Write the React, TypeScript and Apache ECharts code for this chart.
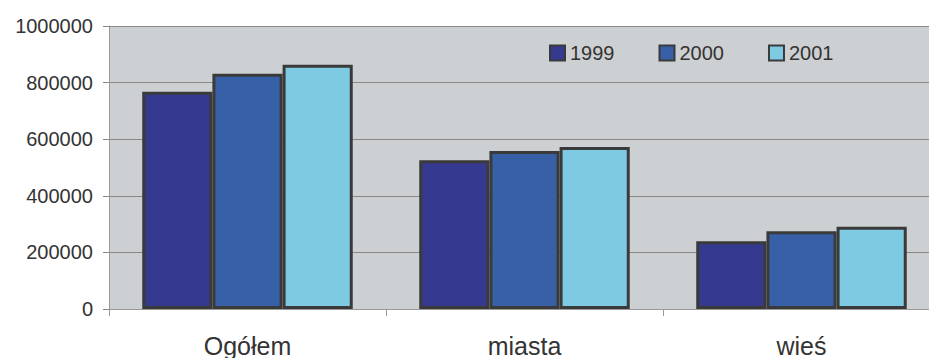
import React, { useEffect, useRef } from "react";
import * as echarts from "echarts";

const categories = ["Ogółem", "miasta", "wieś"];
const years = ["1999", "2000", "2001"];
const values1999 = [768000, 526000, 239000];
const values2000 = [831000, 558000, 275000];
const values2001 = [863000, 572000, 291000];
const colors = ["#363990", "#3760A6", "#7FCAE3"];

export default function App() {
  const ref = useRef<HTMLDivElement>(null);
  useEffect(() => {
    if (!ref.current) return;
    const chart = echarts.init(ref.current, null, { renderer: "svg" });
    const font = "'Liberation Sans', Arial, sans-serif";
    const seriesData = [values1999, values2000, values2001];
    chart.setOption({
      animation: false,
      backgroundColor: "#ffffff",
      textStyle: { fontFamily: font },
      grid: {
        left: 109,
        right: 0,
        top: 26,
        bottom: 47,
        show: true,
        backgroundColor: "#CDD0D2",
        borderWidth: 0,
      },
      legend: {
        data: years,
        left: 549,
        top: 43,
        padding: 0,
        itemWidth: 15,
        itemHeight: 15,
        itemGap: 44,
        icon: "rect",
        textStyle: { fontSize: 20, color: "#333", fontFamily: font },
      },
      xAxis: {
        type: "category",
        data: categories,
        axisLine: { show: true, lineStyle: { color: "#999", width: 1 } },
        axisTick: { show: true, length: 7, lineStyle: { color: "#999" } },
        axisLabel: { fontSize: 25, color: "#333", margin: 24, fontFamily: font },
      },
      yAxis: {
        type: "value",
        min: 0,
        max: 1000000,
        interval: 200000,
        axisLine: { show: true, lineStyle: { color: "#999", width: 1 } },
        axisTick: { show: true, length: 6, lineStyle: { color: "#888" } },
        axisLabel: {
          fontSize: 20,
          color: "#333",
          margin: 16,
          fontFamily: font,
          formatter: (v: number) => String(v),
        },
        splitLine: { show: true, lineStyle: { color: "#888", width: 1 } },
      },
      series: years.map((y, i) => ({
        name: y,
        type: "bar",
        data: seriesData[i],
        barGap: "0%",
        barCategoryGap: "24%",
        itemStyle: { color: colors[i], borderColor: "#3a3a3a", borderWidth: 3 },
      })),
    });
    return () => chart.dispose();
  }, []);
  return (
    <div style={{ position: "fixed", left: 0, top: 0, width: 929, height: 358, overflow: "hidden", background: "#fff" }}>
      <div ref={ref} style={{ width: 940, height: 358 }} />
    </div>
  );
}
